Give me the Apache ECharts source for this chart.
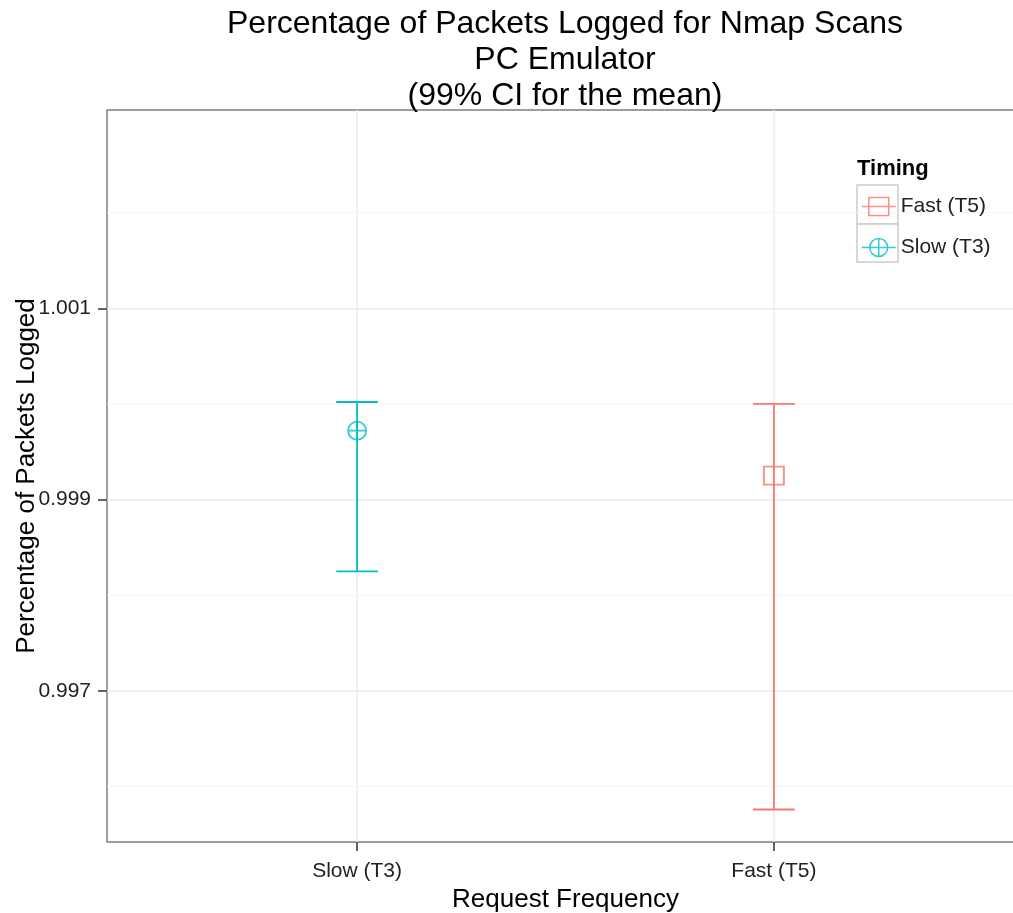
<!DOCTYPE html>
<html>
<head>
<meta charset="utf-8">
<script src="https://cdn.jsdelivr.net/npm/echarts@6/dist/echarts.min.js"></script>
<style>
html,body{margin:0;padding:0;background:#fff;}
#chart{width:1013px;height:913px;}
</style>
</head>
<body>
<div id="chart"></div>
<script>
// ---- data ----
const categories = ['Slow (T3)', 'Fast (T5)'];        // x positions 1, 2
const legendOrder = ['Fast (T5)', 'Slow (T3)'];
const meanValues  = [0.99972, 0.99925];               // per category
const lowerValues = [0.99825, 0.99576];
const upperValues = [1.00002, 1.00000];
const yTicks = [0.997, 0.999, 1.001];
const yMinor = [0.996, 0.998, 1.000, 1.002];
const yRange = [0.99542, 1.003073];
const xRange = [0.4, 2.6];

const colors = { 'Fast (T5)': '#F8766D', 'Slow (T3)': '#00BFC4' };
const symbols = {
  'Fast (T5)': 'path://M0,0 L20,0 L20,18 L0,18 Z',
  'Slow (T3)': 'path://M9,0 L9,18 M0,9 L18,9 M18,9 A9,9 0 1 1 0,9 A9,9 0 1 1 18,9'
};
const legendIcons = {
  'Fast (T5)': 'path://M0,9 L34,9 M7,0 L27,0 L27,18 L7,18 Z',
  'Slow (T3)': 'path://M0,9 L34,9 M17,0 L17,18 M26,9 A9,9 0 1 1 8,9 A9,9 0 1 1 26,9'
};
const symbolSizes = { 'Fast (T5)': [20, 18], 'Slow (T3)': [18, 18] };

const chart = echarts.init(document.getElementById('chart'), null, {renderer: 'canvas'});

function errRender(color) {
  return function (params, api) {
    const x = api.value(0), lo = api.value(1), hi = api.value(2);
    const top = api.coord([x, hi]);
    const bot = api.coord([x, lo]);
    const hw = api.size([0.05, 0])[0];
    const st = { stroke: color, lineWidth: 1.8 };
    return {
      type: 'group',
      children: [
        { type: 'line', shape: { x1: top[0], y1: top[1], x2: bot[0], y2: bot[1] }, style: st },
        { type: 'line', shape: { x1: top[0] - hw, y1: top[1], x2: top[0] + hw, y2: top[1] }, style: st },
        { type: 'line', shape: { x1: bot[0] - hw, y1: bot[1], x2: bot[0] + hw, y2: bot[1] }, style: st }
      ]
    };
  };
}

function minorRender(params, api) {
  const cs = params.coordSys;
  const y = api.coord([xRange[0], api.value(0)])[1];
  return {
    type: 'line',
    shape: { x1: cs.x, y1: y, x2: cs.x + cs.width, y2: y },
    style: { stroke: '#f4f4f4', lineWidth: 1 }
  };
}

const series = [];
// minor grid lines
series.push({
  type: 'custom', name: '_minor', z: 1, silent: true,
  renderItem: minorRender,
  encode: { y: 0 },
  data: yMinor.map(v => [v])
});
categories.forEach((cat, i) => {
  series.push({
    type: 'custom', name: cat + ' CI', z: 3, silent: true,
    renderItem: errRender(colors[cat]),
    data: [[i + 1, lowerValues[i], upperValues[i]]]
  });
});
legendOrder.forEach(cat => {
  const i = categories.indexOf(cat);
  series.push({
    type: 'scatter', name: cat, z: 4,
    symbol: symbols[cat], symbolSize: symbolSizes[cat],
    itemStyle: { color: 'transparent', borderColor: colors[cat], borderWidth: 1.8 },
    data: [[i + 1, meanValues[i]]]
  });
});

const option = {
  backgroundColor: '#ffffff',
  animation: false,
  title: [
    {
      text: 'Percentage of Packets Logged for Nmap Scans\nPC Emulator\n(99% CI for the mean)',
      left: 565, top: 6, padding: 0, textAlign: 'center',
      textStyle: { fontFamily: 'Liberation Sans, Arial', fontSize: 32, fontWeight: 'normal', color: '#000', lineHeight: 36 }
    },
    {
      text: 'Timing', left: 857, top: 158, padding: 0,
      textStyle: { fontFamily: 'Liberation Sans, Arial', fontSize: 22, fontWeight: 'bold', color: '#000' }
    }
  ],
  legend: {
    orient: 'vertical', left: 861, top: 196, padding: 0,
    itemWidth: 34, itemHeight: 18, itemGap: 20,
    selectedMode: false,
    data: legendOrder.map(cat => ({
      name: cat, icon: legendIcons[cat],
      itemStyle: { color: 'transparent', borderColor: colors[cat], borderWidth: 1.5 }
    })),
    textStyle: { fontFamily: 'Liberation Sans, Arial', fontSize: 21, color: '#222', lineHeight: 18 }
  },
  graphic: [
    { type: 'rect', shape: { x: 857, y: 185, width: 41, height: 39 }, style: { fill: '#fff', stroke: '#cccccc', lineWidth: 1.5 }, z: -1 },
    { type: 'rect', shape: { x: 857, y: 224, width: 41, height: 38 }, style: { fill: '#fff', stroke: '#cccccc', lineWidth: 1.5 }, z: -1 }
  ],
  grid: {
    left: 107, right: -11, top: 110, bottom: 71,
    show: true, borderColor: '#7f7f7f', borderWidth: 1.5, backgroundColor: 'transparent',
    containLabel: false, outerBoundsMode: 'none'
  },
  xAxis: {
    type: 'value', min: xRange[0], max: xRange[1],
    name: 'Request Frequency', nameLocation: 'middle', nameGap: 44,
    nameTextStyle: { fontFamily: 'Liberation Sans, Arial', fontSize: 26, color: '#000' },
    axisLine: { show: false },
    axisTick: { show: true, length: 9, customValues: [1, 2], lineStyle: { color: '#333', width: 1.5 } },
    axisLabel: {
      customValues: [1, 2], margin: 19,
      formatter: v => categories[Math.round(v) - 1] || '',
      fontFamily: 'Liberation Sans, Arial', fontSize: 21, color: '#222'
    },
    splitLine: { show: true, lineStyle: { color: '#ebebeb', width: 1.5 } }
  },
  yAxis: {
    type: 'value', min: yRange[0], max: yRange[1],
    name: 'Percentage of Packets Logged', nameLocation: 'middle', nameGap: 67,
    nameMoveOverlap: false,
    nameTextStyle: { fontFamily: 'Liberation Sans, Arial', fontSize: 26, color: '#000' },
    axisLine: { show: false },
    axisTick: { show: true, length: 9, customValues: yTicks, lineStyle: { color: '#333', width: 1.5 } },
    axisLabel: {
      customValues: yTicks, margin: 16,
      formatter: v => Number(v).toFixed(3),
      fontFamily: 'Liberation Sans, Arial', fontSize: 21, color: '#222'
    },
    splitLine: { show: true, lineStyle: { color: '#ebebeb', width: 1.5 } }
  },
  series: series
};
chart.setOption(option);
</script>
</body>
</html>
